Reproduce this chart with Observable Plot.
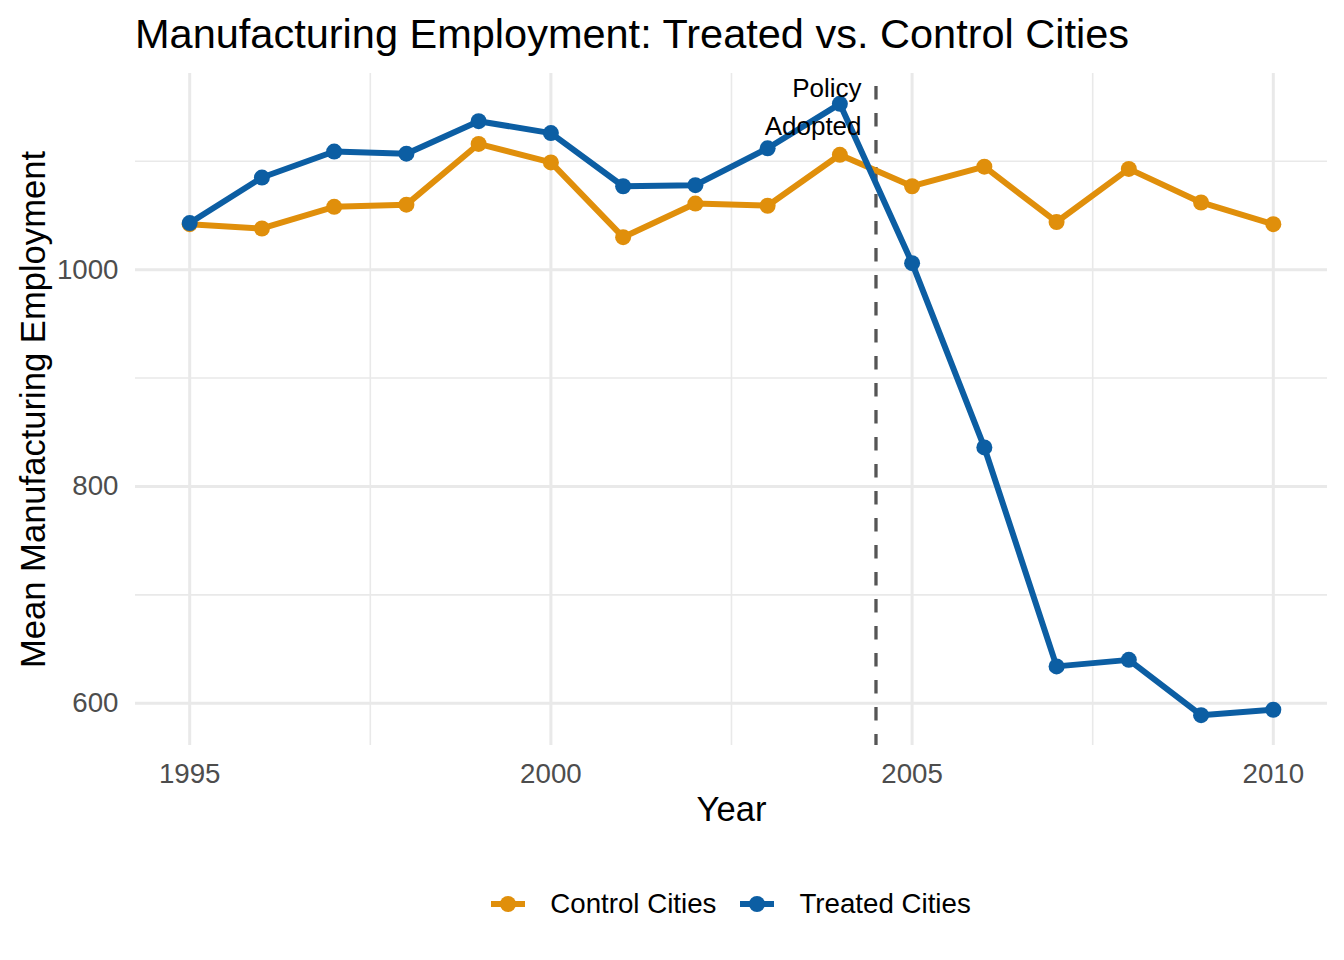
<!DOCTYPE html>
<html>
<head>
<meta charset="utf-8">
<script src="https://cdn.jsdelivr.net/npm/d3@7"></script>
<script src="https://cdn.jsdelivr.net/npm/@observablehq/plot@0.6"></script>
<style>
  body { margin: 0; background: #fff; font-family: "Liberation Sans", Arial, sans-serif; }
  #title { box-sizing: border-box; height: 63px; padding: 13px 0 0 135px; font-size: 41.5px; line-height: 41.5px; color: #000; white-space: nowrap; }
  #chart svg { display: block; }
  #legend { box-sizing: border-box; height: 90px; margin-left: 135px; width: 1192px; display: flex; justify-content: center; align-items: center; padding-bottom: 22px; }
  .item { display: flex; align-items: center; font-size: 27.7px; color: #000; }
  .item svg { display: block; margin-right: 25px; }
  .item + .item { margin-left: 24px; }
</style>
</head>
<body>
<div id="title"></div>
<div id="chart"></div>
<div id="legend"></div>
<script>
// ---- data ----
const titleText = "Manufacturing Employment: Treated vs. Control Cities";
const years = [1995, 1996, 1997, 1998, 1999, 2000, 2001, 2002, 2003, 2004, 2005, 2006, 2007, 2008, 2009, 2010];
const controlValues = [1042, 1038, 1058, 1060, 1116, 1099, 1030, 1061, 1059, 1106, 1077, 1095, 1044, 1093, 1062, 1042];
const treatedValues = [1043, 1085, 1109, 1107, 1137, 1126, 1077, 1078, 1112, 1153, 1006, 836, 634, 640, 589, 594];
const groups = ["Control Cities", "Treated Cities"];
const groupColors = ["#E08F0B", "#0C5EA3"];
const xTicks = [1995, 2000, 2005, 2010];
const xMinorTicks = [1997.5, 2002.5, 2007.5];
const yTicks = [600, 800, 1000];
const yMinorTicks = [700, 900, 1100];
const policyYear = 2004.5;
const annotation = [{year: 2004.3, value: 1153, label: "Policy\nAdopted"}];
const xLabel = "Year";
const yLabel = "Mean Manufacturing Employment";

// ---- build table ----
const rows = [];
years.forEach((yr, i) => rows.push({year: yr, value: controlValues[i], group: groups[0]}));
years.forEach((yr, i) => rows.push({year: yr, value: treatedValues[i], group: groups[1]}));

document.getElementById("title").textContent = titleText;

const grid = "#E9E9E9";
const chart = Plot.plot({
  width: 1344,
  height: 807,
  marginTop: 10,
  marginBottom: 125,
  marginLeft: 135,
  marginRight: 17,
  style: {fontFamily: "'Liberation Sans', Arial, sans-serif", background: "#fff"},
  x: {domain: [1994.25, 2010.75]},
  y: {domain: [561, 1181]},
  color: {domain: groups, range: groupColors},
  marks: [
    Plot.gridX(xMinorTicks, {stroke: grid, strokeOpacity: 1, strokeWidth: 1.6}),
    Plot.gridY(yMinorTicks, {stroke: grid, strokeOpacity: 1, strokeWidth: 1.6}),
    Plot.gridX(xTicks, {stroke: grid, strokeOpacity: 1, strokeWidth: 3}),
    Plot.gridY(yTicks, {stroke: grid, strokeOpacity: 1, strokeWidth: 3}),
    Plot.axisX(xTicks, {tickSize: 0, tickPadding: 18, fontSize: 27.7, color: "#4D4D4D", label: null, tickFormat: d => String(d)}),
    Plot.axisY(yTicks, {tickSize: 0, tickPadding: 17, fontSize: 27.7, color: "#4D4D4D", label: null, tickFormat: d => String(d)}),
    Plot.ruleX([policyYear], {stroke: "#555555", strokeWidth: 3.3, strokeDasharray: "13.5,13.5", strokeDashoffset: 14}),
    Plot.line(rows, {x: "year", y: "value", stroke: "group", strokeWidth: 6, strokeLinejoin: "round", strokeLinecap: "butt"}),
    Plot.dot(rows, {x: "year", y: "value", fill: "group", r: 8}),
    Plot.text(annotation, {x: "year", y: "value", text: "label", textAnchor: "end", lineHeight: 1.46, fontSize: 26, fill: "#000"}),
    Plot.text([xLabel], {frameAnchor: "bottom", dy: 75, fontSize: 34.6, fill: "#000"}),
    Plot.text([yLabel], {frameAnchor: "left", textAnchor: "middle", dx: -102, rotate: -90, fontSize: 34.6, fill: "#000"})
  ]
});
document.getElementById("chart").appendChild(chart);

// ---- legend ----
const legend = document.getElementById("legend");
groups.forEach((g, i) => {
  const item = document.createElement("div");
  item.className = "item";
  item.innerHTML = `<svg width="34" height="20"><line x1="0" y1="10" x2="34" y2="10" stroke="${groupColors[i]}" stroke-width="6"/><circle cx="17" cy="10" r="8" fill="${groupColors[i]}"/></svg><span></span>`;
  item.querySelector("span").textContent = g;
  legend.appendChild(item);
});
</script>
</body>
</html>
